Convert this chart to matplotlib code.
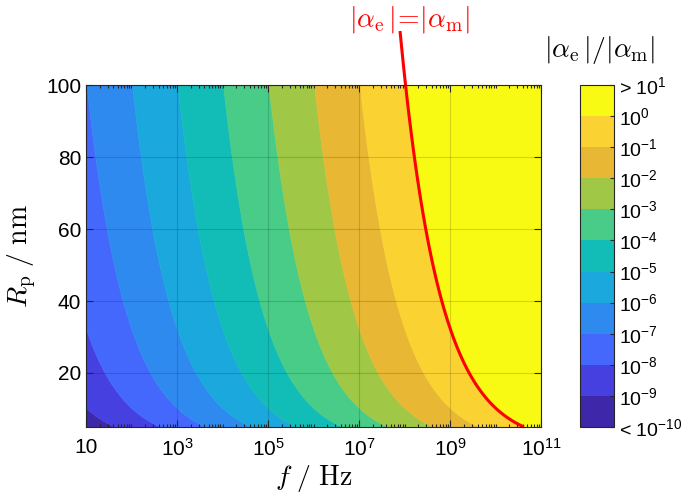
import numpy as np
import matplotlib
matplotlib.use('Agg')
from matplotlib import pyplot as plt
from matplotlib import ticker

# values
level_exponents = [-10, -9, -8, -7, -6, -5, -4, -3, -2, -1, 0, 1]   # log10(|ae|/|am|) band edges
cbar_labels = ['< $10^{-10}$', '$10^{-9}$', '$10^{-8}$', '$10^{-7}$', '$10^{-6}$', '$10^{-5}$',
               '$10^{-4}$', '$10^{-3}$', '$10^{-2}$', '$10^{-1}$', '$10^{0}$', '> $10^{1}$']
band_colors = ['#3e27a8', '#4640e0', '#4468fc', '#2f8af0', '#1ba8dc', '#12bdb8',
               '#48cc88', '#a0c846', '#e8b834', '#fad232', '#f8fa14']
f_ticks = [1e1, 1e3, 1e5, 1e7, 1e9, 1e11]
r_ticks = [20, 40, 60, 80, 100]
f_range = [1e1, 1e11]
r_range = [5, 100]
# |ae| = |am| crossing: f = 1.05e8 Hz at Rp = 100 nm, ratio goes as f * Rp^2
f_unity_r100 = 1.05e8
r_unity_ref = 100.0
ratio_f_power = 1.0
ratio_r_power = 2.0

plt.rcParams['font.family'] = ['Liberation Sans', 'DejaVu Sans']
plt.rcParams['mathtext.fontset'] = 'custom'
plt.rcParams['mathtext.rm'] = 'Liberation Sans'
plt.rcParams['mathtext.it'] = 'Liberation Sans:italic'
plt.rcParams['mathtext.bf'] = 'Liberation Sans:bold'
plt.rcParams['axes.unicode_minus'] = False


def log_ratio(f, r):
    return ratio_f_power * np.log10(f / f_unity_r100) + ratio_r_power * np.log10(r / r_unity_ref)


fig = plt.figure(figsize=(6.85, 5.04), dpi=100)
ax = fig.add_axes([0.1255, 0.1528, 0.6645, 0.6785])

F, R = np.meshgrid(np.logspace(np.log10(f_range[0]), np.log10(f_range[1]), 500),
                   np.linspace(r_range[0], r_range[1], 500))
Z = np.clip(log_ratio(F, R), level_exponents[0], level_exponents[-1] - 1e-9)
cf = ax.contourf(F, R, Z, levels=level_exponents, colors=band_colors, antialiased=True)
cf.set_edgecolor('face')
cf.set_linewidth(0.4)

# red |ae|=|am| line, carried on above the frame up to the label
F2, R2 = np.meshgrid(np.logspace(np.log10(f_range[0]), np.log10(f_range[1]), 500),
                     np.linspace(r_range[0], 115, 500))
cs = ax.contour(F2, R2, log_ratio(F2, R2), levels=[0], colors='red', linewidths=2.2)
cs.set_clip_on(False)

ax.set_xscale('log')
ax.set_xlim(f_range)
ax.set_ylim(r_range)
ax.xaxis.set_major_locator(ticker.FixedLocator(f_ticks))
ax.xaxis.set_major_formatter(ticker.FuncFormatter(
    lambda v, p: '10' if v == 10 else '$10^{%d}$' % round(np.log10(v))))
ax.xaxis.set_minor_locator(ticker.LogLocator(base=10, subs=np.arange(1, 10), numticks=200))
ax.xaxis.set_minor_formatter(ticker.NullFormatter())
ax.yaxis.set_major_locator(ticker.FixedLocator(r_ticks))
ax.tick_params(which='both', direction='in', top=True, right=True, labelsize=15,
               color='#262626', width=0.8)
ax.tick_params(which='major', length=5)
ax.tick_params(which='minor', length=2.5)
ax.tick_params(axis='x', pad=8)
ax.grid(True, which='major', color='k', alpha=0.15, linewidth=0.8)
for s in ax.spines.values():
    s.set_color('#262626')
    s.set_linewidth(0.8)

ax.set_xlabel(r'$f\ /\ \mathrm{Hz}$', fontsize=20, math_fontfamily='cm', labelpad=2)
ax.set_ylabel(r'$R_\mathrm{p}\ /\ \mathrm{nm}$', fontsize=20, math_fontfamily='cm', labelpad=6)

cax = fig.add_axes([0.8467, 0.1528, 0.0496, 0.6785])
cb = fig.colorbar(cf, cax=cax, ticks=level_exponents)
cb.ax.set_yticklabels(cbar_labels)
cb.ax.tick_params(direction='in', length=3, labelsize=14, color='#262626', width=0.8)
cb.outline.set_linewidth(0.8)
cb.outline.set_edgecolor('#262626')

fig.text(0.876, 0.90, r'$|\alpha_\mathrm{e}\,|/|\alpha_\mathrm{m}|$', fontsize=20,
         math_fontfamily='cm', ha='center', va='center')
fig.text(0.598, 0.962, r'$|\alpha_\mathrm{e}\,|\!=\!|\alpha_\mathrm{m}|$', fontsize=20,
         math_fontfamily='cm', ha='center', va='center', color='red')

fig.savefig('out.png', dpi=100)
